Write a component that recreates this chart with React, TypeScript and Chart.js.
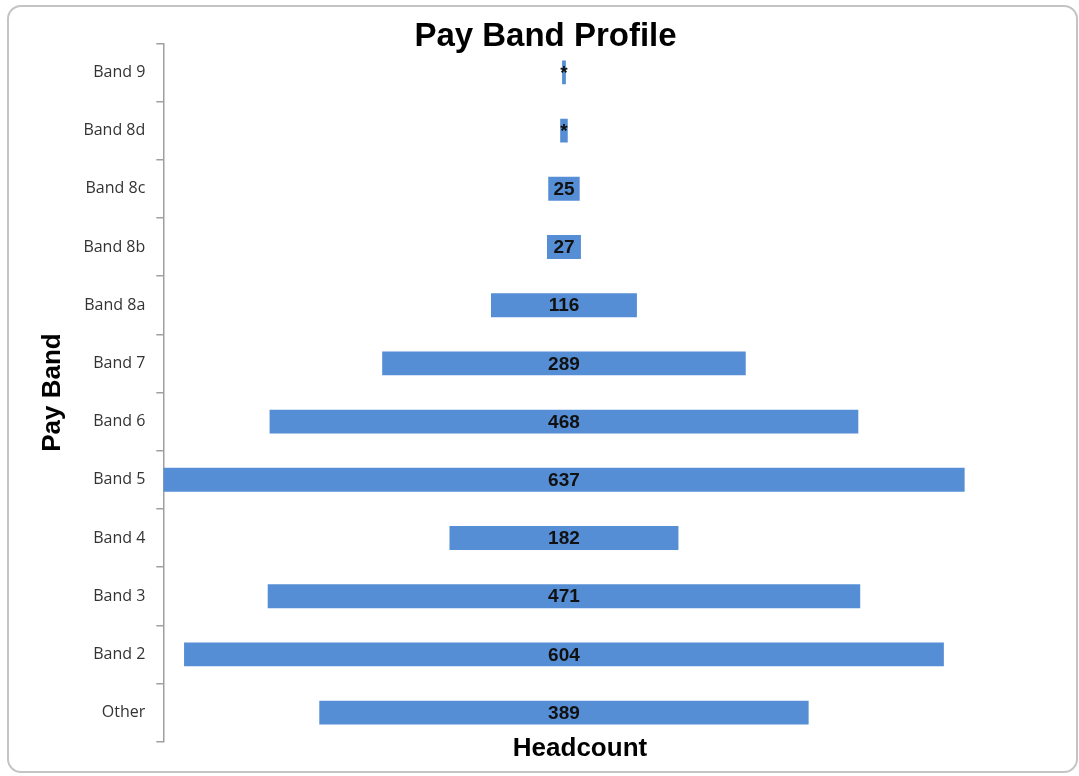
import React, { useEffect, useRef } from "react";
import { Chart, registerables } from "chart.js";

Chart.register(...registerables);

const categories = ["Band 9", "Band 8d", "Band 8c", "Band 8b", "Band 8a", "Band 7", "Band 6", "Band 5", "Band 4", "Band 3", "Band 2", "Other"];
const headcount = [3, 6, 25, 27, 116, 289, 468, 637, 182, 471, 604, 389];
const valueLabels = ["*", "*", "25", "27", "116", "289", "468", "637", "182", "471", "604", "389"];
const chartTitle = "Pay Band Profile";
const xTitle = "Headcount";
const yTitle = "Pay Band";

const titlePlugin = {
  id: "fixedTitle",
  afterDraw(chart: any) {
    const ctx = chart.ctx;
    ctx.save();
    ctx.font = "bold 33px 'Liberation Sans', Arial, sans-serif";
    ctx.fillStyle = "#000000";
    ctx.textAlign = "center";
    ctx.textBaseline = "alphabetic";
    ctx.fillText(chartTitle, 545.5, 45.5);
    ctx.restore();
  },
};

const labelPlugin = {
  id: "barLabels",
  afterDatasetsDraw(chart: any) {
    const ctx = chart.ctx;
    const meta = chart.getDatasetMeta(0);
    ctx.save();
    ctx.font = "bold 19px 'Liberation Sans', Arial, sans-serif";
    ctx.fillStyle = "#111111";
    ctx.textAlign = "center";
    ctx.textBaseline = "middle";
    meta.data.forEach((bar: any, i: number) => {
      const cx = (bar.x + bar.base) / 2;
      ctx.fillText(valueLabels[i], cx, bar.y + 1);
    });
    ctx.restore();
  },
};

export default function App() {
  const ref = useRef<HTMLCanvasElement | null>(null);

  useEffect(() => {
    if (!ref.current) return;
    const chart = new Chart(ref.current, {
      type: "bar",
      data: {
        labels: categories,
        datasets: [
          {
            label: "Headcount",
            data: headcount.map((v) => [-v / 2, v / 2]) as any,
            backgroundColor: "#558ED5",
            borderWidth: 0,
            categoryPercentage: 1,
            barPercentage: 0.41,
          },
        ],
      },
      options: {
        indexAxis: "y",
        animation: false,
        responsive: false,
        maintainAspectRatio: false,
        layout: { padding: { left: 0, top: 43.3, right: 82.3, bottom: 0 } },
        plugins: {
          legend: { display: false },
          title: { display: false },
          tooltip: { enabled: false },
        },
        scales: {
          x: {
            min: -318.5,
            max: 344,
            ticks: { display: false },
            grid: { display: false },
            border: { display: false },
            title: {
              display: true,
              text: xTitle,
              color: "#000000",
              font: { family: "'Liberation Sans', Arial, sans-serif", size: 26, weight: "bold" },
              padding: { top: 0, bottom: 11.4 },
            },
            afterFit(scale: any) {
              scale.height = 776 - 741.7;
            },
          },
          y: {
            ticks: {
              color: "#333333",
              font: { family: "'Open Sans', sans-serif", size: 16 },
              padding: 11,
            },
            grid: {
              display: true,
              drawOnChartArea: false,
              drawTicks: true,
              tickLength: 7,
              color: "#a0a0a0",
              lineWidth: 1.5,
              offset: true,
            },
            border: { display: true, color: "#a0a0a0", width: 1.5 },
            title: {
              display: true,
              text: yTitle,
              color: "#000000",
              font: { family: "'Liberation Sans', Arial, sans-serif", size: 26, weight: "bold" },
              padding: { top: 37.4, bottom: 0 },
            },
            afterFit(scale: any) {
              scale.width = 163.3;
            },
          },
        },
      },
      plugins: [titlePlugin, labelPlugin],
    });
    return () => chart.destroy();
  }, []);

  return (
    <div style={{ position: "absolute", left: 0, top: 0, width: 1079, height: 776, overflow: "hidden", background: "#ffffff" }}>
      <div
        style={{
          position: "absolute",
          left: 7,
          top: 5,
          width: 1071,
          height: 768,
          boxSizing: "border-box",
          border: "2px solid #c4c4c4",
          borderRadius: 14,
        }}
      />
      <canvas ref={ref} width={1079} height={776} style={{ position: "absolute", left: 0, top: 0, width: 1079, height: 776 }} />
    </div>
  );
}
